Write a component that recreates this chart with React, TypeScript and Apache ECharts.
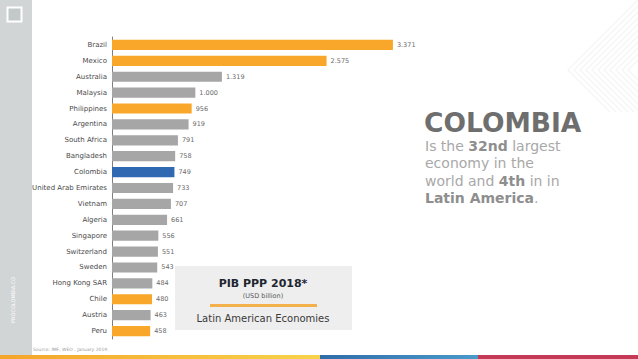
import React, { useEffect, useRef } from "react";
import * as echarts from "echarts";

const countries = ["Brazil", "Mexico", "Australia", "Malaysia", "Philippines", "Argentina", "South Africa", "Bangladesh", "Colombia", "United Arab Emirates", "Vietnam", "Algeria", "Singapore", "Switzerland", "Sweden", "Hong Kong SAR", "Chile", "Austria", "Peru"];
const gdpPPP = [3371, 2575, 1319, 1000, 956, 919, 791, 758, 749, 733, 707, 661, 556, 551, 543, 484, 480, 463, 458];
const groups = ["latam", "latam", "other", "other", "latam", "other", "other", "other", "colombia", "other", "other", "other", "other", "other", "other", "other", "latam", "other", "latam"];

const COLORS: Record<string, string> = { latam: "#F9A72B", other: "#A6A6A6", colombia: "#2F69B1" };
const FONT = "'DejaVu Sans', sans-serif";

const fmt = (v: number) => {
  const s = String(v);
  return s.length > 3 ? s.slice(0, s.length - 3) + "." + s.slice(-3) : s;
};

const chevrons = Array.from({ length: 11 }, (_, i) => {
  const tx = 568 + i * 6;
  return {
    type: "polyline",
    shape: { points: [[tx + 75, -5], [tx, 70], [tx + 42, 112]] },
    style: { stroke: "#F6F6F6", lineWidth: 1.5, fill: "none" },
    silent: true,
  };
});

export default function App() {
  const ref = useRef<HTMLDivElement>(null);
  useEffect(() => {
    const chart = echarts.init(ref.current!, undefined, { renderer: "svg" });
    chart.setOption({
      animation: false,
      backgroundColor: "#ffffff",
      grid: { left: 112, top: 37, width: 400, height: 302 },
      xAxis: { type: "value", min: 0, max: 4800, show: false },
      yAxis: {
        type: "category",
        inverse: true,
        data: countries,
        axisLine: { lineStyle: { color: "#7f7f7f", width: 1 } },
        axisTick: { length: 3, lineStyle: { color: "#7f7f7f" } },
        axisLabel: { fontFamily: FONT, fontSize: 7, color: "#4a4a4a", margin: 5 },
      },
      series: [
        {
          type: "bar",
          barCategoryGap: "36%",
          data: gdpPPP.map((v, i) => ({ value: v, itemStyle: { color: COLORS[groups[i]] } })),
          label: {
            show: true,
            position: "right",
            distance: 4,
            fontFamily: FONT,
            fontSize: 6.5,
            color: "#6a6a6a",
            formatter: (p: any) => fmt(p.value),
          },
        },
      ],
      graphic: [
        ...chevrons,
        { type: "rect", shape: { x: 0, y: 0, width: 32, height: 359 }, style: { fill: "#D1D5D6" } },
        { type: "rect", shape: { x: 7.5, y: 7.5, width: 14, height: 14 }, style: { fill: "#C3C8C9", stroke: "#ffffff", lineWidth: 2 } },
        {
          type: "text",
          x: 13,
          y: 300,
          rotation: Math.PI / 2,
          style: { text: "PROCOLOMBIA.CO", fontFamily: FONT, fontSize: 5, fill: "#ffffff", align: "center", verticalAlign: "middle" },
        },
        {
          type: "text",
          x: 33,
          y: 349,
          style: { text: "Source: IMF, WEO , January 2019.", fontFamily: FONT, fontSize: 4.5, fill: "#9a9a9a", verticalAlign: "middle" },
        },
        { type: "rect", shape: { x: 0, y: 355, width: 320, height: 4 }, style: { fill: new echarts.graphic.LinearGradient(0, 0, 1, 0, [{ offset: 0, color: "#F4A52A" }, { offset: 1, color: "#F7D34A" }]) } },
        { type: "rect", shape: { x: 320, y: 355, width: 158, height: 4 }, style: { fill: new echarts.graphic.LinearGradient(0, 0, 1, 0, [{ offset: 0, color: "#2F6DA8" }, { offset: 1, color: "#4A9ACB" }]) } },
        { type: "rect", shape: { x: 478, y: 355, width: 160, height: 4 }, style: { fill: "#C43A56" } },
        // Info box
        { type: "rect", shape: { x: 175, y: 266, width: 177, height: 64 }, style: { fill: "#EEEEEE" } },
        { type: "text", x: 263, y: 283, style: { text: "PIB PPP 2018*", fontFamily: FONT, fontWeight: "bold", fontSize: 11, fill: "#1E2632", align: "center", verticalAlign: "middle" } },
        { type: "text", x: 263, y: 296, style: { text: "(USD billion)", fontFamily: FONT, fontSize: 6.5, fill: "#595959", align: "center", verticalAlign: "middle" } },
        { type: "rect", shape: { x: 210, y: 304, width: 107, height: 3 }, style: { fill: "#F4B04A" } },
        { type: "text", x: 263, y: 318, style: { text: "Latin American Economies", fontFamily: FONT, fontSize: 10, fill: "#3a3a3a", align: "center", verticalAlign: "middle" } },
        // Right text
        { type: "text", x: 424, y: 122, style: { text: "COLOMBIA", fontFamily: FONT, fontWeight: "bold", fontSize: 26.5, fill: "#6E6E6E", verticalAlign: "middle" } },
        {
          type: "text",
          x: 425,
          y: 137,
          style: {
            text: "{n|Is the }{b|32nd}{n| largest}\n{n|economy in the}\n{n|world and }{b|4th}{n| in in}\n{b|Latin America}{n|.}",
            fontFamily: FONT,
            rich: {
              n: { fontFamily: FONT, fontSize: 14, fill: "#A8A8A8", lineHeight: 17.5 },
              b: { fontFamily: FONT, fontSize: 14, fontWeight: "bold", fill: "#8E8E8E", lineHeight: 17.5 },
            },
          },
        },
      ],
    });
    return () => chart.dispose();
  }, []);
  return <div ref={ref} style={{ width: 638, height: 359, position: "absolute", left: 0, top: 0 }} />;
}
